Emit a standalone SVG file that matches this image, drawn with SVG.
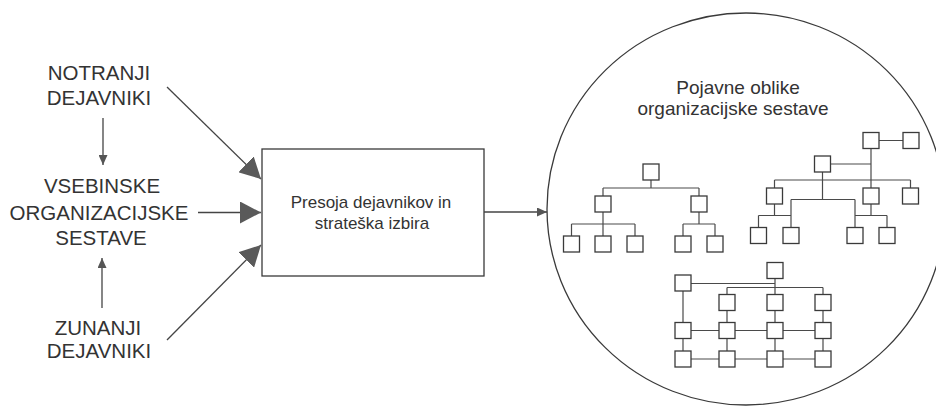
<svg xmlns="http://www.w3.org/2000/svg" width="936" height="407" viewBox="0 0 936 407">
  <style>
    .lbl { font-family: "Liberation Sans", Arial, sans-serif; fill: #333; text-anchor: middle; }
    .big { font-size: 20.5px; }
    .mid { font-size: 17px; }
    .cap { font-size: 19px; }
    .edge { stroke: #444; stroke-width: 1.3; fill: none; }
    .frame { stroke: #3a3a3a; stroke-width: 1.3; fill: #fff; }
    .ln { stroke: #4a4a4a; stroke-width: 1.2; fill: none; }
    .bx { stroke: #3a3a3a; stroke-width: 1.3; fill: #fff; }
  </style>
  <defs>
    <marker id="headBig" viewBox="0 0 21 22" refX="21" refY="11" markerWidth="21" markerHeight="22" markerUnits="userSpaceOnUse" orient="auto">
      <path d="M0,0 L21,11 L0,22 Z" fill="#5a5a5a"/>
    </marker>
    <marker id="headSmall" viewBox="0 0 10 9" refX="10" refY="4.5" markerWidth="10" markerHeight="9" markerUnits="userSpaceOnUse" orient="auto">
      <path d="M0,0 L10,4.5 L0,9 Z" fill="#555"/>
    </marker>
  </defs>

  <rect width="936" height="407" fill="#fff"/>

  <!-- left factor labels -->
  <g id="notranji">
    <text class="lbl big" x="99" y="80">NOTRANJI</text>
    <text class="lbl big" x="99" y="105">DEJAVNIKI</text>
  </g>
  <g id="vsebinske">
    <text class="lbl big" x="102" y="193">VSEBINSKE</text>
    <text class="lbl big" x="99" y="220">ORGANIZACIJSKE</text>
    <text class="lbl big" x="101" y="245">SESTAVE</text>
  </g>
  <g id="zunanji">
    <text class="lbl big" x="98" y="335">ZUNANJI</text>
    <text class="lbl big" x="99" y="358">DEJAVNIKI</text>
  </g>

  <!-- assessment box -->
  <g id="presoja">
    <rect class="frame" x="262" y="149" width="222" height="127"/>
    <text class="lbl mid" x="371" y="208">Presoja dejavnikov in</text>
    <text class="lbl mid" x="372" y="229">strateška izbira</text>
  </g>

  <!-- forms of organisational structure -->
  <g id="pojavne-oblike">
    <ellipse class="frame" cx="746" cy="209" rx="199" ry="196"/>
    <text class="lbl cap" x="738" y="94">Pojavne oblike</text>
    <text class="lbl cap" x="733" y="115">organizacijske sestave</text>

    <!-- hierarchical tree -->
    <g id="drevo">
      <path class="ln" d="M651,180 V188 M603,188 H699 M603,188 V196 M699,188 V196
                         M603,212 V224 M571.5,224 H635 M571.5,224 V236 M603,224 V236 M635,224 V236
                         M699,212 V224 M683,224 H715 M683,224 V236 M715,224 V236"/>
      <rect class="bx" x="643" y="164" width="16" height="16"/>
      <rect class="bx" x="595" y="196" width="16" height="16"/>
      <rect class="bx" x="691" y="196" width="16" height="16"/>
      <rect class="bx" x="563.5" y="236" width="16" height="16"/>
      <rect class="bx" x="595" y="236" width="16" height="16"/>
      <rect class="bx" x="627" y="236" width="16" height="16"/>
      <rect class="bx" x="675" y="236" width="16" height="16"/>
      <rect class="bx" x="707" y="236" width="16" height="16"/>
    </g>

    <!-- staff-line structure -->
    <g id="stabna">
      <path class="ln" d="M879,140.5 H903 M871,148.5 V188 M830.5,164 H871
                         M774.5,180 H910.5 M774.5,180 V188 M910.5,180 V188
                         M822.5,172 V199.5 M791,199.5 H855 M791,199.5 V227.5 M855,199.5 V227.5
                         M774.5,204 V215.5 M758.5,215.5 H791 M758.5,215.5 V227.5
                         M871,204 V215.5 M855,215.5 H887 M887,215.5 V227.5"/>
      <rect class="bx" x="863" y="132.5" width="16" height="16"/>
      <rect class="bx" x="903" y="132.5" width="16" height="16"/>
      <rect class="bx" x="814.5" y="156" width="16" height="16"/>
      <rect class="bx" x="766.5" y="188" width="16" height="16"/>
      <rect class="bx" x="863" y="188" width="16" height="16"/>
      <rect class="bx" x="902.5" y="188" width="16" height="16"/>
      <rect class="bx" x="750.5" y="227.5" width="16" height="16"/>
      <rect class="bx" x="783" y="227.5" width="16" height="16"/>
      <rect class="bx" x="847" y="227.5" width="16" height="16"/>
      <rect class="bx" x="879" y="227.5" width="16" height="16"/>
    </g>

    <!-- matrix structure -->
    <g id="matricna">
      <path class="ln" d="M691,283.5 H775 M775,279 V351 M727,287.5 H823 M727,287.5 V351 M823,287.5 V351
                         M683,291 V351 M683,330.5 H823 M683,359 H823"/>
      <rect class="bx" x="767" y="262.5" width="16" height="16"/>
      <rect class="bx" x="675" y="275" width="16" height="16"/>
      <rect class="bx" x="719" y="294.5" width="16" height="16"/>
      <rect class="bx" x="767" y="294.5" width="16" height="16"/>
      <rect class="bx" x="815" y="294.5" width="16" height="16"/>
      <rect class="bx" x="675" y="322.5" width="16" height="16"/>
      <rect class="bx" x="719" y="322.5" width="16" height="16"/>
      <rect class="bx" x="767" y="322.5" width="16" height="16"/>
      <rect class="bx" x="815" y="322.5" width="16" height="16"/>
      <rect class="bx" x="675" y="351" width="16" height="16"/>
      <rect class="bx" x="719" y="351" width="16" height="16"/>
      <rect class="bx" x="767" y="351" width="16" height="16"/>
      <rect class="bx" x="815" y="351" width="16" height="16"/>
    </g>
  </g>

  <!-- connectors -->
  <g id="connectors">
    <line class="edge" x1="103" y1="118" x2="103" y2="165" marker-end="url(#headSmall)"/>
    <line class="edge" x1="102" y1="308" x2="102" y2="258" marker-end="url(#headSmall)"/>
    <line class="edge" x1="167" y1="87" x2="261" y2="179" marker-end="url(#headBig)"/>
    <line class="edge" x1="198" y1="212.5" x2="261" y2="212.5" marker-end="url(#headBig)"/>
    <line class="edge" x1="167" y1="340" x2="261" y2="245" marker-end="url(#headBig)"/>
    <line class="edge" x1="484" y1="212" x2="547" y2="212" marker-end="url(#headSmall)"/>
  </g>
</svg>
